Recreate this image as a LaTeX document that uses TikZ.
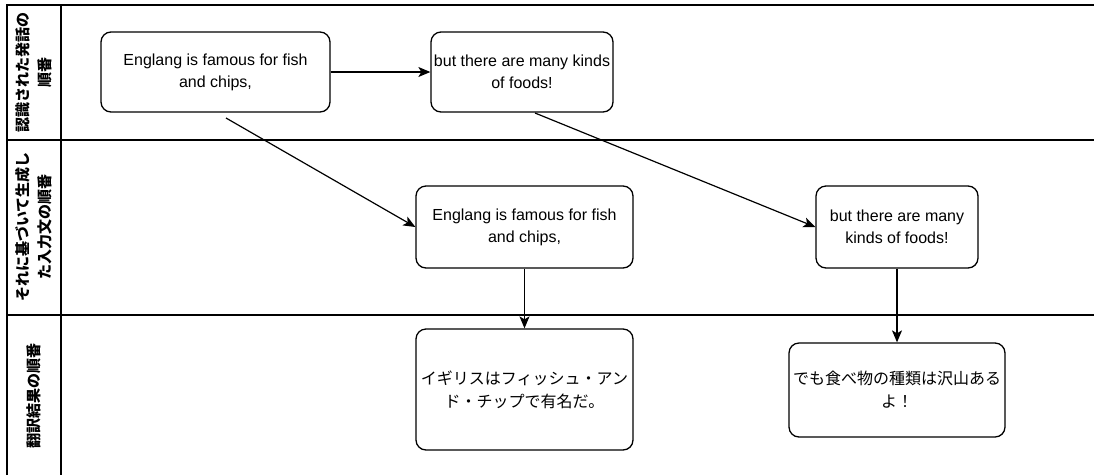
\documentclass[tikz,border=0pt]{standalone}
\usepackage{fontspec}
\setmainfont{Liberation Sans}
\newfontfamily\jpfont{Noto Sans CJK JP}
\usepackage{tikz}
\usetikzlibrary{arrows.meta,positioning}

\begin{document}
\begin{tikzpicture}[
  box/.style={draw,rounded corners=10pt,line width=1.3pt,align=center,
              inner sep=1pt,font=\fontsize{16}{22}\selectfont},
  jbox/.style={box,font=\jpfont\fontsize{16}{23}\selectfont},
  lanehead/.style={rotate=90,align=center,
                   font=\jpfont\bfseries\fontsize{15}{22}\selectfont},
  lane/.style={line width=1.4pt},
  arr/.style={-{Stealth[length=12pt,width=10pt,inset=3pt]},line width=1.2pt},
  x=1pt,y=-1pt
]
\useasboundingbox (0,0) rectangle (1094,475);

% swimlanes
\draw[lane] (7,475) -- (7,5) -- (1094,5);
\draw[lane] (61,5) -- (61,475);
\draw[lane] (7,140) -- (1094,140);
\draw[lane] (7,315) -- (1094,315);

\node[lanehead] (head1) at (34,72)  {認識された発話の\\順番};
\node[lanehead] (head2) at (34,227) {それに基づいて生成し\\た入力文の順番};
\node[lanehead] (head3) at (34,396) {翻訳結果の順番};

% recognised utterances
\node[box,minimum width=229pt,minimum height=80pt] (rec1) at (215.5,72)
  {Englang is famous for fish\\and chips,};
\node[box,minimum width=182pt,minimum height=80pt] (rec2) at (522,72)
  {but there are many kinds\\of foods!};

% generated input sentences
\node[box,minimum width=217pt,minimum height=82pt] (gen1) at (524.5,227)
  {Englang is famous for fish\\and chips,};
\node[box,minimum width=162pt,minimum height=82pt] (gen2) at (897,227)
  {but there are many\\kinds of foods!};

% translations
\node[jbox,minimum width=217pt,minimum height=121pt] (tr1) at (524.5,389.5)
  {イギリスはフィッシュ・アン\\ド・チップで有名だ。};
\node[jbox,minimum width=216pt,minimum height=94pt] (tr2) at (897,390)
  {でも食べ物の種類は沢山ある\\よ！};

\coordinate (d1) at (226,118);
\coordinate (d2) at (535,113);

\draw[arr] (rec1.east) -- (rec2.west);
\draw[arr] (d1) -- (gen1.west);
\draw[arr] (d2) -- (gen2.west);
\draw[arr] (gen1.south) -- (tr1.north);
\draw[arr] (gen2.south) -- (tr2.north);
\end{tikzpicture}
\end{document}
